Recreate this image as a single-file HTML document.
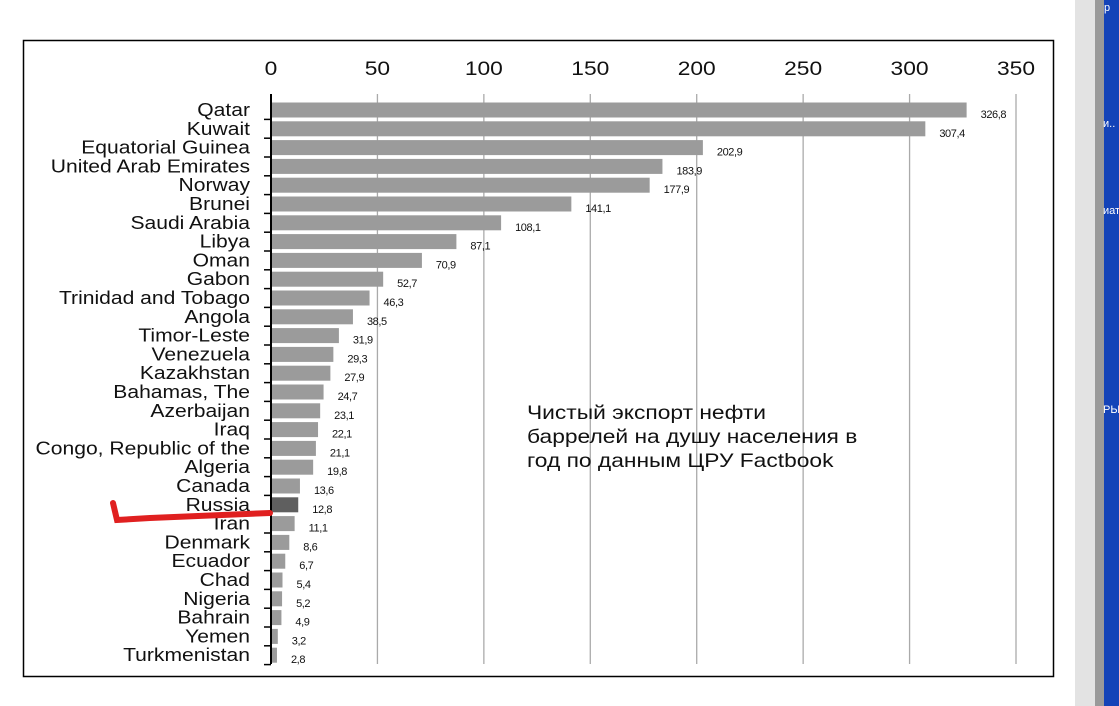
<!DOCTYPE html>
<html><head><meta charset="utf-8"><style>
body{margin:0;width:1119px;height:706px;background:#fff;position:relative;overflow:hidden;font-family:"Liberation Sans",sans-serif}
</style></head><body>
<div style="position:absolute;left:1075px;top:0;width:20px;height:706px;background:#e3e3e3"></div>
<div style="position:absolute;left:1095px;top:0;width:9px;height:706px;background:#9a9a9a"></div>
<div style="position:absolute;left:1104px;top:0;width:15px;height:706px;background:#1443b8;color:#fff;font-size:11px">
<div style="position:absolute;top:2px;left:0">р</div><div style="position:absolute;top:118px;left:-1px">и..</div><div style="position:absolute;top:205px;left:-1px">иат</div><div style="position:absolute;top:404px;left:-1px">РЫ</div></div>
<svg width="1119" height="706" style="position:absolute;left:0;top:0">
<rect x="23.5" y="40.5" width="1030" height="636" fill="none" stroke="#000" stroke-width="1.5"/>
<g id="g"></g>
<g transform="translate(527,0) scale(1.2,1)">
<text x="0" y="419" font-size="19" fill="#111"><tspan x="0">Чистый экспорт нефти</tspan><tspan x="0" dy="24">баррелей на душу населения в</tspan><tspan x="0" dy="24">год по данным ЦРУ Factbook</tspan></text></g>
<path d="M113,503 L117,520 L150,518 L270,513" stroke="#e02020" stroke-width="6" fill="none" stroke-linecap="round"/>
</svg>
<script>
const categories=["Qatar","Kuwait","Equatorial Guinea","United Arab Emirates","Norway","Brunei","Saudi Arabia","Libya","Oman","Gabon","Trinidad and Tobago","Angola","Timor-Leste","Venezuela","Kazakhstan","Bahamas, The","Azerbaijan","Iraq","Congo, Republic of the","Algeria","Canada","Russia","Iran","Denmark","Ecuador","Chad","Nigeria","Bahrain","Yemen","Turkmenistan"];
const values=[326.8,307.4,202.9,183.9,177.9,141.1,108.1,87.1,70.9,52.7,46.3,38.5,31.9,29.3,27.9,24.7,23.1,22.1,21.1,19.8,13.6,12.8,11.1,8.6,6.7,5.4,5.2,4.9,3.2,2.8];
const ticks=[0,50,100,150,200,250,300,350];
const NS="http://www.w3.org/2000/svg",g=document.getElementById('g');
const x=v=>271+v*745/350, y=i=>110+i*18.8;
function mk(t,a){const e=document.createElementNS(NS,t);for(const k in a)e.setAttribute(k,a[k]);g.appendChild(e);return e;}
ticks.forEach(t=>{
 if(t>0){const l=mk('line',{x1:x(t),x2:x(t),y1:94,y2:664,stroke:'#aaa','stroke-width':1.3});
 
 }
 const tx=mk('text',{x:0,y:75,'font-size':19,'text-anchor':'middle',fill:'#111',transform:`translate(${x(t)},0) scale(1.2,1)`});tx.textContent=t;
 
 
});
categories.forEach((c,i)=>{
 const r=mk('rect',{x:271,y:y(i)-7.5,width:x(values[i])-271,height:15,fill:c==="Russia"?'#5f5f5f':'#9b9b9b'});
 
 
 const lb=mk('text',{x:0,y:y(i)+6,'font-size':18.5,'text-anchor':'end',fill:'#111',transform:'translate(250,0) scale(1.14,1)'});lb.textContent=c;
 
 
 const vl=mk('text',{x:x(values[i])+14,y:y(i)+8,'font-size':11,fill:'#111','letter-spacing':'-0.4'});vl.textContent=values[i].toFixed(1).replace('.',',');
 
 
 const tk=mk('line',{x1:264,x2:271,y1:y(i)+9.4,y2:y(i)+9.4,stroke:'#000','stroke-width':1.5});
 
 
});
const ax=mk('line',{x1:271,x2:271,y1:94,y2:664,stroke:'#000','stroke-width':2});


</script>
</body></html>
